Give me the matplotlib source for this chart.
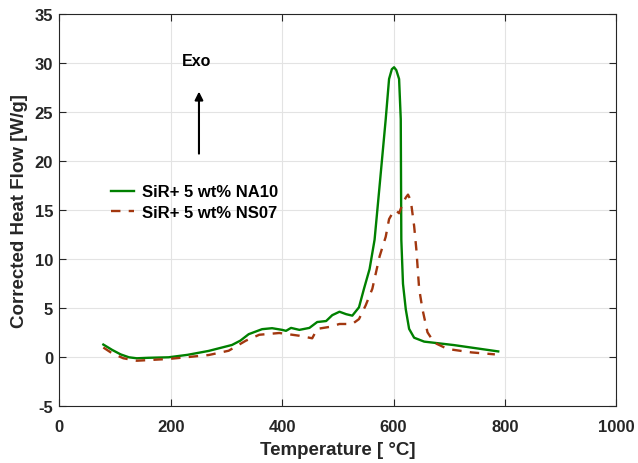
import numpy as np
import matplotlib
matplotlib.use('Agg')
from matplotlib import pyplot as plt

plt.rcParams['font.family'] = ['Liberation Sans', 'DejaVu Sans']
plt.rcParams['axes.unicode_minus'] = False

# values
na10_T = [79, 95, 110, 125, 139, 160, 196, 230, 268, 310, 325, 340, 364, 382, 400,
          407, 416, 431, 449, 463, 479, 490, 503, 515, 526, 538, 547, 557, 566, 575,
          586, 592, 597, 601, 605, 610, 613, 613.5, 614, 617, 622, 628, 637, 655, 708, 788]
na10_hf = [1.3, 0.75, 0.3, 0.0, -0.1, -0.05, 0.0, 0.25, 0.65, 1.26, 1.7, 2.36, 2.87, 2.97, 2.8,
           2.7, 3.0, 2.8, 3.0, 3.6, 3.7, 4.3, 4.65, 4.4, 4.25, 5.1, 7.0, 9.0, 12.0, 17.5,
           24.3, 28.4, 29.4, 29.6, 29.3, 28.4, 24.3, 18.0, 12.0, 7.5, 4.9, 2.9, 2.0, 1.6, 1.25, 0.6]

ns07_T = [79, 95, 115, 139, 196, 268, 304, 335, 359, 395, 431, 454, 463, 485, 503,
          526, 538, 550, 562, 575, 586, 592, 599, 604, 610, 616, 622, 626, 631, 637,
          641, 646, 652, 661, 673, 697, 740, 782]
ns07_hf = [1.0, 0.4, -0.1, -0.35, -0.17, 0.23, 0.67, 1.7, 2.3, 2.48, 2.2, 1.94, 2.9, 3.1, 3.4,
           3.4, 3.9, 5.3, 7.0, 10.3, 12.3, 14.1, 14.8, 15.0, 14.7, 15.6, 16.3, 16.6, 16.0, 13.4,
           11.0, 7.0, 4.9, 2.55, 1.5, 0.85, 0.5, 0.3]

fig = plt.figure(figsize=(6.38, 4.64), dpi=100)
ax = fig.add_axes([0.093, 0.1222, 0.873, 0.8448])

ax.plot(na10_T, na10_hf, color='#008000', lw=1.7, label='SiR+ 5 wt% NA10')
ax.plot(ns07_T, ns07_hf, color='#A2370F', lw=1.7, ls=(0, (4, 3.5)), label='SiR+ 5 wt% NS07')

ax.set_xlim(0, 1000)
ax.set_ylim(-5, 35)
ax.set_xticks(np.arange(0, 1001, 200))
ax.set_yticks(np.arange(-5, 36, 5))
ax.grid(True, color='#e3e3e3', lw=0.8)
ax.set_axisbelow(True)
ax.tick_params(direction='in', top=True, right=True, labelsize=12, length=5,
               colors='#262626')
ax.tick_params(axis='x', pad=9.5)
ax.tick_params(axis='y', pad=4.5)
for lab in ax.get_xticklabels() + ax.get_yticklabels():
    lab.set_fontweight('bold')
for s in ax.spines.values():
    s.set_color('#262626')

ax.set_xlabel('Temperature [ °C]', fontsize=13.5, fontweight='bold', labelpad=5, color='#262626')
ax.set_ylabel('Corrected Heat Flow [W/g]', fontsize=13.5, fontweight='bold', labelpad=5, color='#262626')

ax.annotate('', xy=(250.7, 27.4), xytext=(250.7, 20.5),
            arrowprops=dict(arrowstyle='-|>', color='black', lw=1.5, mutation_scale=12))
ax.text(246, 30.3, 'Exo', fontsize=11.5, fontweight='bold', ha='center', va='center')

leg = ax.legend(loc='upper left', bbox_to_anchor=(0.092, 0.566), frameon=False,
                borderpad=0, borderaxespad=0,
                prop={'size': 12, 'weight': 'bold'}, handlelength=1.4,
                handletextpad=0.5, labelspacing=0.35)

fig.savefig('out.png', dpi=100)
